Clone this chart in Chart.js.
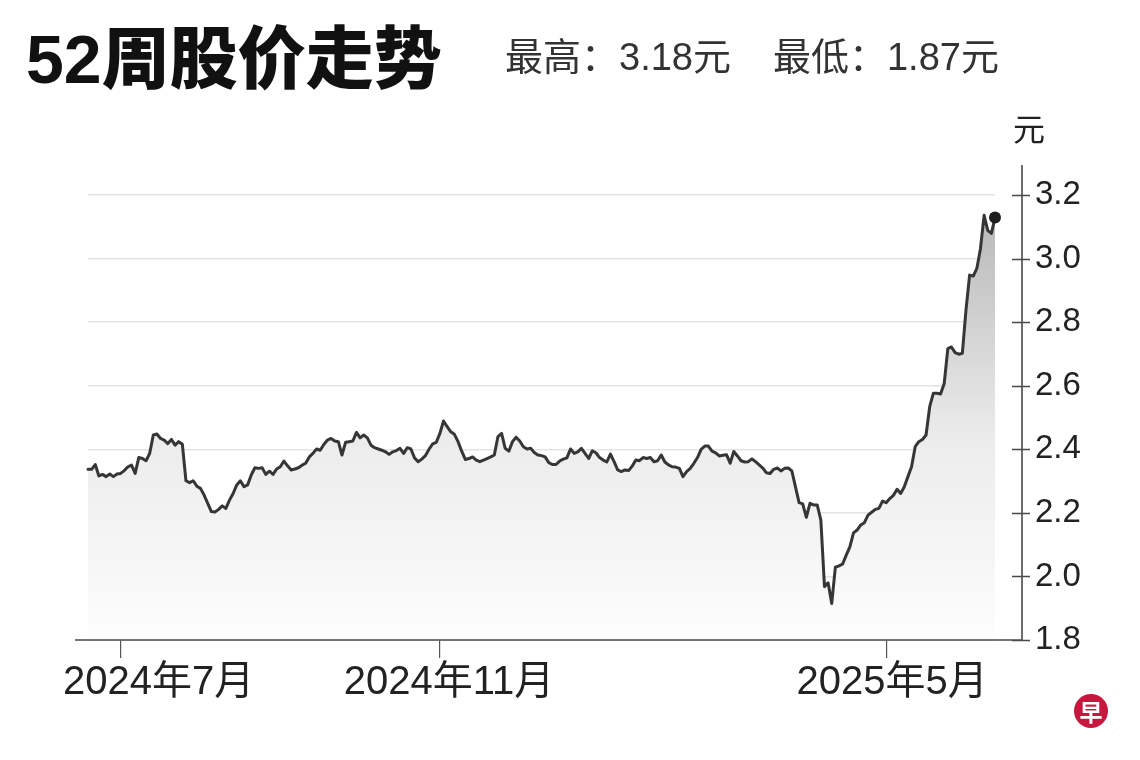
<!DOCTYPE html>
<html lang="zh">
<head>
<meta charset="utf-8">
<title>52周股价走势</title>
<script src="https://cdn.jsdelivr.net/npm/chart.js@4.4.1/dist/chart.umd.min.js"></script>
<style>
  html, body { margin: 0; padding: 0; background: #fff; }
  body { width: 1140px; height: 760px; position: relative; overflow: hidden;
         font-family: "Liberation Sans", "Noto Sans CJK SC", sans-serif; }
  #chart { position: absolute; left: 0; top: 0; }
  .title { position: absolute; left: 26px; top: 25px; font-size: 68px; line-height: 68px;
           font-weight: 900; color: #111; white-space: nowrap; }
  .range { position: absolute; left: 505px; top: 38px; font-size: 38px; line-height: 38px;
           color: #333; white-space: nowrap; }
  .range span + span { margin-left: 42px; }
  .unit { position: absolute; left: 1013px; top: 114px; font-size: 32px; line-height: 32px; color: #222; }
  .logo { position: absolute; left: 1074px; top: 694px; width: 34px; height: 34px; border-radius: 50%;
          background: #c8173f; color: #fff; font: 700 23px/34px "Noto Sans CJK SC", sans-serif; text-align: center; }
</style>
</head>
<body>
<canvas id="chart" width="1140" height="760"></canvas>
<div class="title">52周股价走势</div>
<div class="range"><span>最高：3.18元</span><span>最低：1.87元</span></div>
<div class="unit">元</div>
<div class="logo">早</div>
<script>
// daily closing price (元), one value per trading day, mid-Jun 2024 .. mid-Jun 2025
const prices = [
  2.337, 2.337, 2.352, 2.316, 2.321, 2.314, 2.322, 2.314, 2.322, 2.324,
  2.333, 2.345, 2.350, 2.324, 2.374, 2.371, 2.364, 2.387, 2.445, 2.448,
  2.434, 2.429, 2.418, 2.431, 2.413, 2.424, 2.416, 2.301, 2.295, 2.301,
  2.284, 2.277, 2.256, 2.230, 2.204, 2.203, 2.211, 2.222, 2.214, 2.240,
  2.261, 2.288, 2.301, 2.282, 2.288, 2.319, 2.342, 2.340, 2.342, 2.321,
  2.331, 2.321, 2.338, 2.345, 2.363, 2.348, 2.335, 2.338, 2.342, 2.350,
  2.356, 2.376, 2.387, 2.401, 2.397, 2.415, 2.429, 2.434, 2.426, 2.424,
  2.382, 2.422, 2.424, 2.426, 2.453, 2.436, 2.445, 2.436, 2.413, 2.405,
  2.401, 2.397, 2.392, 2.384, 2.392, 2.396, 2.403, 2.387, 2.405, 2.401,
  2.373, 2.361, 2.369, 2.380, 2.400, 2.417, 2.422, 2.450, 2.489, 2.471,
  2.455, 2.447, 2.424, 2.394, 2.368, 2.371, 2.376, 2.366, 2.361, 2.366,
  2.371, 2.376, 2.382, 2.440, 2.450, 2.403, 2.394, 2.424, 2.438, 2.426,
  2.408, 2.401, 2.403, 2.390, 2.382, 2.380, 2.376, 2.358, 2.352, 2.352,
  2.363, 2.369, 2.373, 2.401, 2.387, 2.392, 2.403, 2.387, 2.371, 2.395,
  2.389, 2.374, 2.366, 2.360, 2.385, 2.361, 2.335, 2.330, 2.335, 2.333,
  2.347, 2.366, 2.364, 2.374, 2.371, 2.374, 2.361, 2.364, 2.382, 2.360,
  2.351, 2.345, 2.344, 2.340, 2.314, 2.330, 2.340, 2.356, 2.374, 2.400,
  2.410, 2.410, 2.394, 2.389, 2.379, 2.381, 2.383, 2.356, 2.393, 2.379,
  2.364, 2.360, 2.361, 2.370, 2.361, 2.351, 2.341, 2.326, 2.324, 2.337,
  2.341, 2.332, 2.340, 2.341, 2.332, 2.282, 2.232, 2.228, 2.186, 2.230,
  2.225, 2.225, 2.177, 1.968, 1.980, 1.915, 2.029, 2.033, 2.039, 2.067,
  2.093, 2.137, 2.146, 2.162, 2.169, 2.193, 2.202, 2.211, 2.214, 2.237,
  2.232, 2.245, 2.255, 2.274, 2.261, 2.282, 2.314, 2.345, 2.408, 2.424,
  2.431, 2.445, 2.534, 2.576, 2.576, 2.574, 2.607, 2.717, 2.722, 2.704,
  2.699, 2.702, 2.838, 2.948, 2.945, 2.969, 3.032, 3.136, 3.089, 3.079,
  3.129,
];
const days = prices.map((_, i) => i);

// month ticks on the x axis (trading-day index -> label)
const tickIdx = [9, 97, 220];
const tickText = ["2024年7月", "2024年11月", "2025年5月"];
const labelShift = [38, 9, 6];

const yMin = 1.8, yMax = 3.2, yStep = 0.2;

const FONT = "'Liberation Sans', 'Noto Sans CJK SC', sans-serif";
const last = prices.length - 1;

const axisDecor = {
  id: "axisDecor",
  afterDraw(chart, args, o) {
    const { ctx, chartArea: a, scales: { x, y } } = chart;
    const ax = a.right + o.rightGap;
    ctx.save();
    ctx.strokeStyle = o.color;
    ctx.lineWidth = o.width;
    ctx.beginPath();
    ctx.moveTo(a.left - o.leftExtend, a.bottom);
    ctx.lineTo(ax, a.bottom);
    ctx.lineTo(ax, a.top - o.topExtend);
    for (const t of y.ticks) {
      const py = Math.round(y.getPixelForValue(t.value)) + 0.5;
      ctx.moveTo(ax - 10, py);
      ctx.lineTo(ax + 8, py);
    }
    ctx.stroke();
    ctx.fillStyle = "#222";
    ctx.font = `40px ${FONT}`;
    ctx.textAlign = "center";
    ctx.textBaseline = "middle";
    tickIdx.forEach((idx, k) => {
      ctx.fillText(tickText[k], x.getPixelForValue(idx) + labelShift[k], a.bottom + o.labelGap);
    });
    ctx.restore();
  },
};

new Chart(document.getElementById("chart"), {
  type: "line",
  data: {
    labels: days,
    datasets: [{
      data: prices,
      borderColor: "#363636",
      borderWidth: 3,
      borderJoinStyle: "round",
      borderCapStyle: "round",
      tension: 0,
      fill: "start",
      backgroundColor: (c) => {
        const a = c.chart.chartArea;
        if (!a) return "#eee";
        const g = c.chart.ctx.createLinearGradient(0, a.top, 0, a.bottom);
        g.addColorStop(0, "#b4b4b4");
        g.addColorStop(0.55, "#ececec");
        g.addColorStop(1, "#fdfdfd");
        return g;
      },
      pointRadius: (c) => (c.dataIndex === last ? 6 : 0),
      pointBackgroundColor: "#1e1e1e",
      pointBorderWidth: 0,
      pointHoverRadius: 0,
    }],
  },
  options: {
    responsive: false,
    animation: false,
    devicePixelRatio: 1,
    layout: { padding: { left: 88, top: 195, right: 0, bottom: 0 } },
    plugins: {
      legend: { display: false },
      tooltip: { enabled: false },
      axisDecor: { color: "#4a4a4a", width: 1.6, rightGap: 27, leftExtend: 13, topExtend: 30, labelGap: 43 },
    },
    scales: {
      x: {
        type: "category",
        offset: false,
        border: { display: false },
        grid: {
          drawOnChartArea: false,
          drawTicks: true,
          tickLength: 18,
          lineWidth: 1.2,
          color: (c) => (tickIdx.includes(c.index) ? "#555" : "rgba(0,0,0,0)"),
        },
        ticks: { display: false, autoSkip: false },
        afterFit: (s) => { s.height = 120; },
      },
      y: {
        position: "right",
        min: yMin,
        max: yMax,
        border: { display: false },
        grid: { color: "#e3e3e3", lineWidth: 1.5, drawTicks: false },
        ticks: {
          stepSize: yStep,
          padding: 40,
          color: "#222",
          font: { family: FONT, size: 33 },
          callback: (v) => v.toFixed(1),
        },
        afterFit: (s) => { s.width = 145; },
      },
    },
  },
  plugins: [axisDecor],
});
</script>
</body>
</html>
